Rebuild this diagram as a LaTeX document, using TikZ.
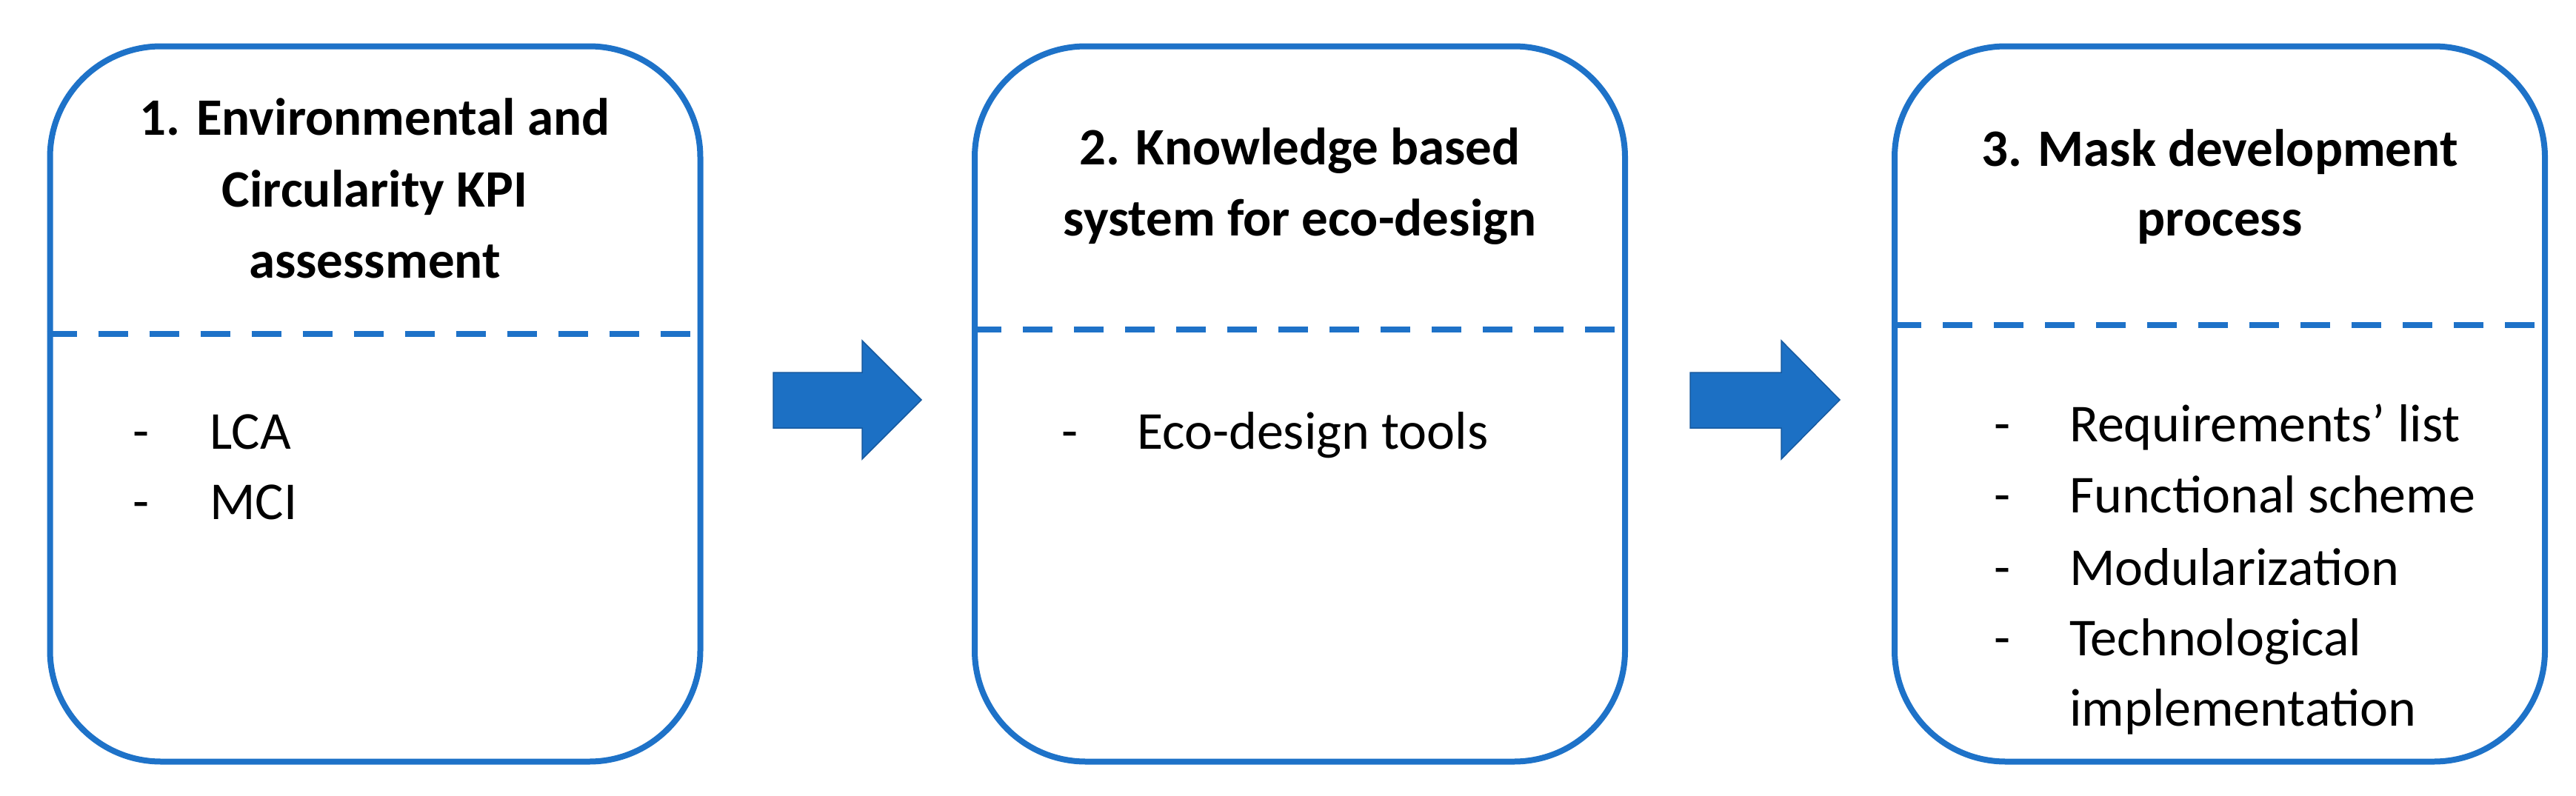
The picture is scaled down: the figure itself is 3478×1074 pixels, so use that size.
\documentclass[tikz,border=0pt]{standalone}
\usepackage{fontspec}
\setmainfont{Carlito}
\definecolor{bblue}{RGB}{30,114,200}
\definecolor{afill}{RGB}{28,112,196}
\definecolor{aline}{RGB}{22,90,160}
\begin{document}
\begin{tikzpicture}[x=1pt,y=-1pt,
  box/.style={draw=bblue,line width=8pt,rounded corners=150pt,minimum width=878pt,minimum height=966pt,inner sep=0pt},
  sep/.style={draw=bblue,line width=8pt,dash pattern=on 40pt off 29pt},
  ttl/.style={font=\fontsize{71}{96}\selectfont\bfseries,anchor=base,inner sep=0pt},
  itm/.style={font=\fontsize{72}{96}\selectfont,anchor=base west,inner sep=0pt},
  bigarrow/.style={fill=afill,draw=aline,line width=1.5pt}]
\useasboundingbox (0,0) rectangle (3478,1074);
\fill[white] (0,0) rectangle (3478,1074);
\node[box] (b1) at (506.5,545.5) {};
\node[box] (b2) at (1755,545.5) {};
\node[box] (b3) at (2997,545.5) {};
\coordinate (d1) at (0,451);
\coordinate (d2) at (0,445);
\coordinate (d3) at (0,439);
\draw[sep] (b1.west |- d1) -- (b1.east |- d1);
\draw[sep] (b2.west |- d2) -- (b2.east |- d2);
\draw[sep] (b3.west |- d3) -- (b3.east |- d3);
% titles
\node[ttl] (t1a) at (506,182) {1. Environmental and};
\node[ttl] (t1b) at (506,279) {Circularity KPI};
\node[ttl] (t1c) at (506,375) {assessment};
\node[ttl] (t2a) at (1755,222) {2. Knowledge based};
\node[ttl] (t2b) at (1755,318) {system for eco-design};
\node[ttl] (t3a) at (2997,224) {3. Mask development};
\node[ttl] (t3b) at (2997,318) {process};
% items
\foreach \y/\t [count=\i] in {606/LCA,701/MCI}{
  \node[itm] (d1\i) at (179,\y) {-};
  \node[itm] (i1\i) at (283,\y) {\t};}
\node[itm] (d21) at (1433,606) {-};
\node[itm] (i21) at (1535,606) {Eco-design tools};
\foreach \y/\t [count=\i] in {596/Requirements’ list,692/Functional scheme,790/Modularization,885/Technological}{
  \node[itm] (d3\i) at (2692,\y) {-};
  \node[itm] (i3\i) at (2794,\y) {\t};}
\node[itm] (i35) at (2794,980) {implementation};
% arrows
\draw[bigarrow] (1044,503) -- (1164,503) -- (1164,460) -- (1244,540) -- (1164,620) -- (1164,578) -- (1044,578) -- cycle;
\draw[bigarrow] (2282,503) -- (2405,503) -- (2405,460) -- (2484,540) -- (2405,620) -- (2405,578) -- (2282,578) -- cycle;
\end{tikzpicture}
\end{document}
